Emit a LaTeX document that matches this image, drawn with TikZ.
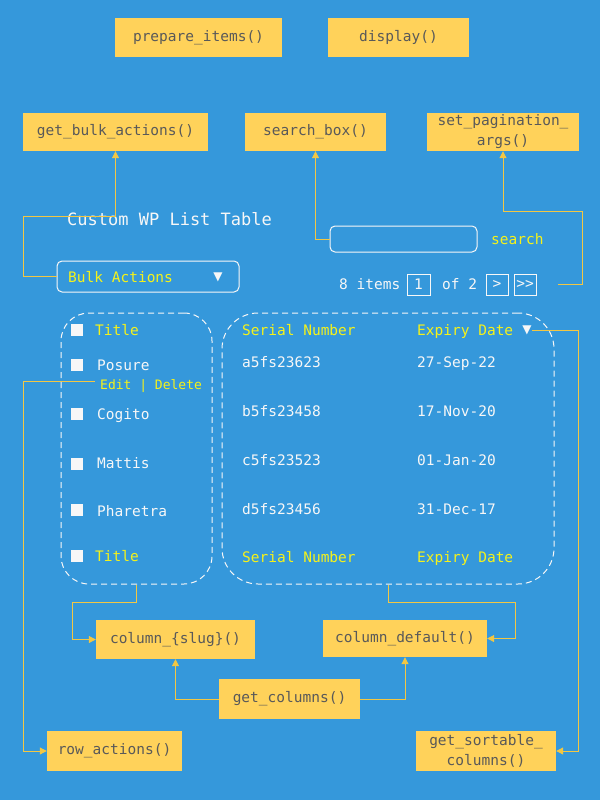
\documentclass[tikz,border=0pt]{standalone}
\usepackage{fontspec}
\setmonofont{DejaVu Sans Mono}
\newfontfamily\symfont{DejaVu Sans}
\usetikzlibrary{arrows.meta}
\definecolor{bg}{HTML}{3598DB}
\definecolor{boxy}{HTML}{FFD25A}
\definecolor{boxtxt}{HTML}{595959}
\definecolor{conn}{HTML}{F2C744}
\definecolor{ytxt}{HTML}{F5F21A}
\definecolor{wtxt}{HTML}{F7F7F7}
\tikzset{
  fnbox/.style={fill=boxy, text=boxtxt, inner sep=0pt, align=center, font=\ttfamily\fontsize{14.5}{20}\selectfont},
  lbl/.style={anchor=base west, inner sep=0pt, font=\ttfamily\fontsize{14.5}{18}\selectfont},
  ylbl/.style={lbl, text=ytxt},
  wlbl/.style={lbl, text=wtxt},
  arr/.style={draw=conn, line width=1pt, -{Triangle[length=7pt,width=7pt]}},
  dashbox/.style={draw=wtxt, dash pattern=on 6pt off 4pt, line width=1pt, inner sep=0pt},
  chk/.style={fill=wtxt, minimum size=12.5pt, inner sep=0pt},
  pgbox/.style={draw=wtxt, line width=1pt, inner sep=0pt, minimum height=21pt, text=wtxt, font=\ttfamily\fontsize{14.5}{18}\selectfont}
}
\begin{document}
\begin{tikzpicture}[x=1pt,y=-1pt]
\useasboundingbox (0,0) rectangle (600,800);
\fill[bg] (0,0) rectangle (600,800);

% function boxes
\node[fnbox, minimum width=167pt, minimum height=39pt] (prep) at (198.5,37.5) {prepare\_items()};
\node[fnbox, minimum width=141pt, minimum height=39pt] (disp) at (398.5,37.5) {display()};
\node[fnbox, minimum width=185pt, minimum height=38pt] (bulk) at (115.5,132) {get\_bulk\_actions()};
\node[fnbox, minimum width=141pt, minimum height=38pt] (sbox) at (315.5,132) {search\_box()};
\node[fnbox, minimum width=152pt, minimum height=38pt] (pag) at (503,132) {set\_pagination\_\\args()};
\node[fnbox, minimum width=159pt, minimum height=39pt] (colslug) at (175.5,639.5) {column\_\{slug\}()};
\node[fnbox, minimum width=164pt, minimum height=37pt] (coldef) at (405,638.5) {column\_default()};
\node[fnbox, minimum width=141pt, minimum height=40pt] (getcols) at (289.5,699) {get\_columns()};
\node[fnbox, minimum width=135pt, minimum height=40pt] (rowact) at (114.5,751) {row\_actions()};
\node[fnbox, minimum width=140pt, minimum height=40pt] (sortc) at (486,751) {get\_sortable\_\\columns()};

% title
\node[wlbl, font=\ttfamily\fontsize{17}{20}\selectfont] (title) at (67,225) {Custom WP List Table};

% search
\node[draw=wtxt, line width=1pt, rounded corners=5pt, minimum width=147pt, minimum height=26pt, inner sep=0pt] (sin) at (403.5,239) {};
\node[ylbl] (stxt) at (491,244) {search};

% bulk dropdown
\node[draw=wtxt, line width=1pt, rounded corners=5pt, minimum width=182pt, minimum height=31pt, inner sep=0pt] (bdd) at (148,276.5) {};
\node[ylbl] (btxt) at (68,282) {Bulk Actions};
\node[text=wtxt, inner sep=0pt, font=\symfont\fontsize{12}{14}\selectfont] (btri) at (218,277) {▼};

% pagination
\node[wlbl] (items) at (339,289.5) {8 items};
\node[pgbox, minimum width=23pt] (p1) at (418.5,284.5) {1};
\node[wlbl] (of2) at (442,289.5) {of 2};
\node[pgbox, minimum width=22pt] (pn) at (497,284.5) {>};
\node[pgbox, minimum width=22pt] (pl) at (525,284.5) {>>};
\coordinate (pgend) at (558,284);

% dashed table boxes
\node[dashbox, rounded corners=28pt, minimum width=151pt, minimum height=271pt] (lcol) at (136.5,448.5) {};
\node[dashbox, rounded corners=36pt, minimum width=332pt, minimum height=271pt] (rcol) at (388,448.5) {};

% left column
\node[chk] (c1) at (77,330) {};
\node[chk] (c2) at (77,365) {};
\node[chk] (c3) at (77,414) {};
\node[chk] (c4) at (77,464) {};
\node[chk] (c5) at (77,510) {};
\node[chk] (c6) at (77,556) {};
\node[ylbl] (t1) at (95,335) {Title};
\node[wlbl] (r1) at (97,370) {Posure};
\node[ylbl, font=\ttfamily\fontsize{13}{16}\selectfont] (editdel) at (100,389) {Edit | Delete};
\node[wlbl] (r2) at (97,419) {Cogito};
\node[wlbl] (r3) at (97,468) {Mattis};
\node[wlbl] (r4) at (97,516) {Pharetra};
\node[ylbl] (t2) at (95,561) {Title};

% right column
\node[ylbl] (sn1) at (242,335) {Serial Number};
\node[ylbl] (ed1) at (417,335) {Expiry Date};
\node[text=wtxt, inner sep=0pt, font=\symfont\fontsize{12}{14}\selectfont] (stri) at (527,330) {▼};
\node[wlbl] (a1) at (242,367) {a5fs23623};
\node[wlbl] (a2) at (417,367) {27-Sep-22};
\node[wlbl] (b1) at (242,416) {b5fs23458};
\node[wlbl] (b2) at (417,416) {17-Nov-20};
\node[wlbl] (cc1) at (242,465) {c5fs23523};
\node[wlbl] (cc2) at (417,465) {01-Jan-20};
\node[wlbl] (d1) at (242,514) {d5fs23456};
\node[wlbl] (d2) at (417,514) {31-Dec-17};
\node[ylbl] (sn2) at (242,562) {Serial Number};
\node[ylbl] (ed2) at (417,562) {Expiry Date};

% connectors
\draw[arr] (bdd.west) -| (23,216) -| (bulk.south);
\draw[arr] (sin.west) -| (sbox.south);
\draw[arr] (pgend) -| (582,211) -| (pag.south);
\draw[arr] (editdel.west) ++(-5,-4) coordinate (edl) (edl) -| (23,751) -- (rowact.west);
\draw[arr] (stri.east) -| (578,751) -- (sortc.east);
\draw[arr] (lcol.south) -- ++(0,18) -| (72,639.5) -- (colslug.west);
\draw[arr] (rcol.south) -- ++(0,18) -| (515,638.5) -- (coldef.east);
\draw[arr] (getcols.west) -| (colslug.south);
\draw[arr] (getcols.east) -| (coldef.south);
\end{tikzpicture}
\end{document}
